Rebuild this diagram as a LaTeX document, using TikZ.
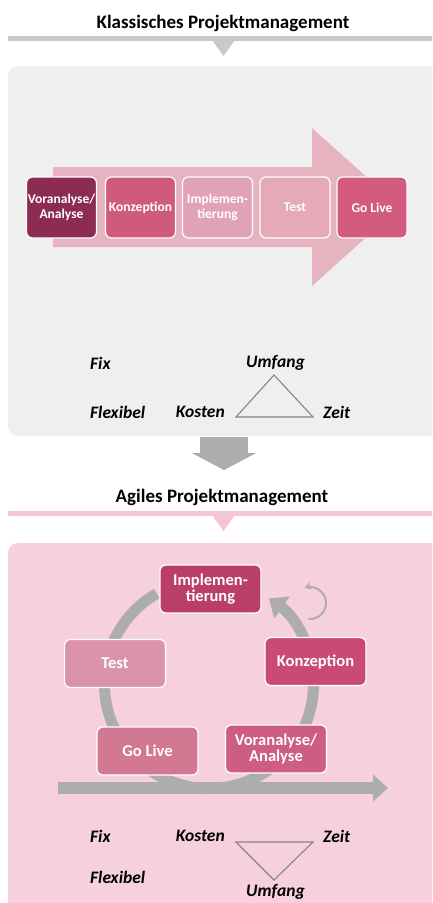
\documentclass[tikz,border=0pt]{standalone}
\usepackage{fontspec}
\setmainfont{Carlito}
\usetikzlibrary{arrows.meta}

\definecolor{grisraya}{HTML}{C9C9C9}
\definecolor{grisfondo}{HTML}{F0EFF0}
\definecolor{grisflecha}{HTML}{ADADAD}
\definecolor{grislinea}{HTML}{858585}
\definecolor{rosaraya}{HTML}{F4C5D3}
\definecolor{rosafondo}{HTML}{F6D1DD}
\definecolor{rosaflecha}{HTML}{E6B3C1}
\definecolor{faseA}{HTML}{8C2C54}
\definecolor{faseB}{HTML}{D05A7C}
\definecolor{faseC}{HTML}{E2A2B5}
\definecolor{faseD}{HTML}{E5A9BA}
\definecolor{faseE}{HTML}{D35B7D}
\definecolor{agilA}{HTML}{B93F69}
\definecolor{agilB}{HTML}{C94B74}
\definecolor{agilC}{HTML}{DA93A9}
\definecolor{agilD}{HTML}{D27892}
\definecolor{agilE}{HTML}{CD5D81}

\tikzset{
  titulo/.style={font=\fontsize{19}{19}\selectfont\bfseries},
  fase/.style={rounded corners=6pt,draw=white,line width=1.2pt,text=white,align=center,
    minimum width=70pt,minimum height=61pt,inner sep=0pt,font=\fontsize{13.5}{14.5}\selectfont\bfseries},
  agil/.style={fase,minimum width=101pt,minimum height=48pt,font=\fontsize{16.5}{16}\selectfont\bfseries},
  etiq/.style={font=\fontsize{17.5}{17.5}\selectfont\bfseries\itshape,inner sep=0pt},
  trian/.style={draw=grislinea,line width=1.1pt,line join=miter}
}

\begin{document}
\begin{tikzpicture}[x=1pt,y=-1pt]
  \useasboundingbox (0,0) rectangle (432,903);
  \clip (0,0) rectangle (432,903);
  % --- Klassisch (arriba) ---
  \node[titulo] (tit1) at (223,23){Klassisches Projektmanagement};
  \fill[grisraya] (8,36) rectangle (440,41); \fill[grisraya] (212,40)--(235,40)--(223.5,56)--cycle;
  \fill[grisfondo,rounded corners=10pt] (8,66) rectangle (450,436);
  % flecha grande de fondo
  \fill[rosaflecha] (53,167)--(312,167)--(312,128)--(400,207)--(312,286)--(312,247)--(53,247)--cycle;
  % fases
  \node[fase,fill=faseA] (k1) at (61.5,207.5){Voranalyse/\\Analyse};
  \node[fase,fill=faseB] (k2) at (140.5,207.5){Konzeption};
  \node[fase,fill=faseC] (k3) at (217.5,207.5){Implemen-\\tierung};
  \node[fase,fill=faseD] (k4) at (295,207.5){Test};
  \node[fase,fill=faseE] (k5) at (372,207.5){Go Live};
  % fijo / flexible
  \node[etiq,anchor=west] (fix1) at (90,363){Fix};
  \node[etiq,anchor=west] (flex1) at (90,412){Flexibel};
  \node[etiq] (umf1) at (275.5,363){Umfang};
  \node[etiq,anchor=east] (kos1) at (225,412){Kosten};
  \node[etiq,anchor=west] (zeit1) at (323,412){Zeit};
  \coordinate (t1a) at (274,375); \coordinate (t1b) at (236,417); \coordinate (t1c) at (313,417);
  \draw[trian] (t1a)--(t1b)--(t1c)--cycle;
  % flecha de paso
  \coordinate (paso1) at (224,437); \coordinate (paso2) at (224,470);
  \draw[grisflecha,line width=48pt,-{Triangle[length=17pt,width=64pt]}] (paso1)--(paso2);
  % --- Agil (abajo) ---
  \node[titulo] (tit2) at (222,497){Agiles Projektmanagement};
  \fill[rosaraya] (8,510.5) rectangle (440,515.5); \fill[rosaraya] (212,515)--(235,515)--(223.5,531)--cycle;
  \fill[rosafondo,rounded corners=10pt] (8,543) rectangle (450,920);
  % ciclo y eje
  \coordinate (centro) at (209,684);
  \coordinate (eje1) at (58,788); \coordinate (eje2) at (388,788);
  \draw[grisflecha,line width=12pt,-{Triangle[length=15pt,width=26pt]}] (eje1)--(eje2);
  \draw[grisflecha,line width=11pt,-{Triangle[length=16pt,width=26pt]}]
    ([shift={(120:104.5pt)}]centro) arc[start angle=120,end angle=415,radius=104.5pt];
  \coordinate (giro) at (310,603);
  \draw[grisflecha,line width=2pt,-{Stealth[length=7pt,width=8pt]}]
    ([shift={(-95:16pt)}]giro) arc[start angle=-95,end angle=110,radius=16pt];
  \node[agil,fill=agilA] (a1) at (210.5,589){Implemen-\\tierung};
  \node[agil,fill=agilB] (a2) at (315.5,661.5){Konzeption};
  \node[agil,fill=agilC] (a3) at (115,663.5){Test};
  \node[agil,fill=agilD] (a4) at (147.5,751){Go Live};
  \node[agil,fill=agilE] (a5) at (276,749){Voranalyse/\\Analyse};
  % fijo / flexible
  \node[etiq,anchor=west] (fix2) at (90,836){Fix};
  \node[etiq,anchor=west] (flex2) at (90,877){Flexibel};
  \node[etiq,anchor=east] (kos2) at (225,836){Kosten};
  \node[etiq,anchor=west] (zeit2) at (323,836){Zeit};
  \node[etiq] (umf2) at (275.5,892){Umfang};
  \coordinate (t2a) at (236,842); \coordinate (t2b) at (313,842); \coordinate (t2c) at (274,880);
  \draw[trian] (t2a)--(t2b)--(t2c)--cycle;
\end{tikzpicture}
\end{document}
